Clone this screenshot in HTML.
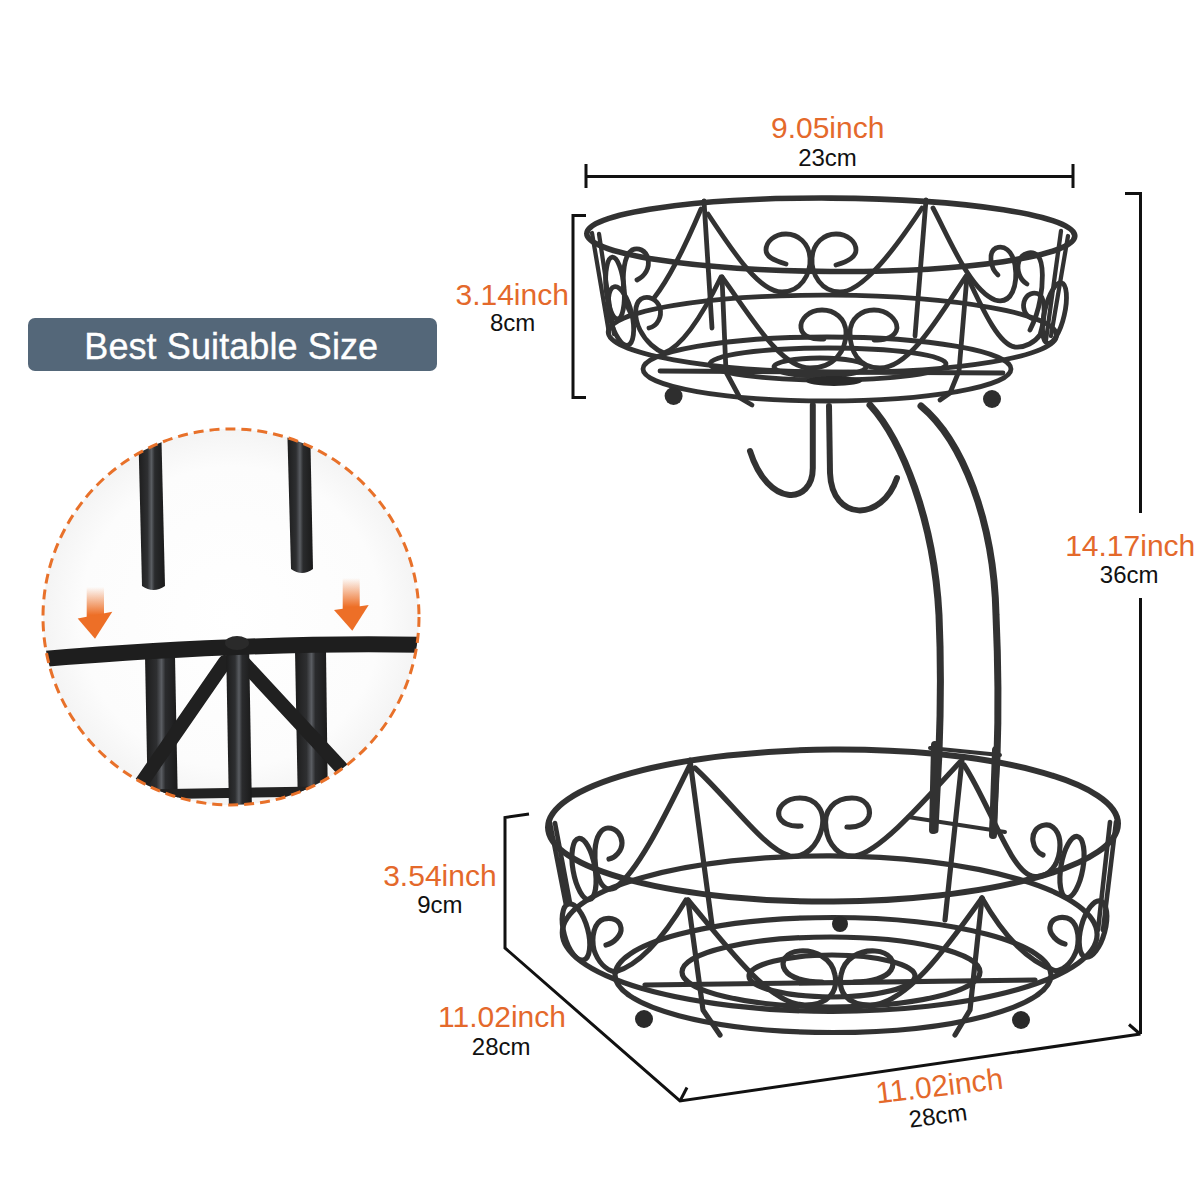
<!DOCTYPE html>
<html><head><meta charset="utf-8">
<style>
html,body{margin:0;padding:0;background:#fff;}
body{width:1200px;height:1200px;position:relative;overflow:hidden;font-family:"Liberation Sans",sans-serif;}
.badge{position:absolute;left:28px;top:318px;width:409px;height:53px;background:#546779;border-radius:7px;}
.badge span{position:absolute;left:-2.5px;right:0;top:11px;letter-spacing:0.1px;-webkit-text-stroke:0.35px #fff;text-align:center;color:#fff;font-size:36px;line-height:36px;}
svg{position:absolute;left:0;top:0;}
</style></head><body>
<div class="badge"><span>Best Suitable Size</span></div>
<svg width="1200" height="1200" viewBox="0 0 1200 1200">
<defs>
  <filter id="soft" x="-5%" y="-5%" width="110%" height="110%"><feGaussianBlur stdDeviation="0.55"/></filter>
  <radialGradient id="cbg" cx="50%" cy="50%" r="50%">
    <stop offset="0" stop-color="#ffffff"/>
    <stop offset="0.8" stop-color="#fcfcfc"/>
    <stop offset="1" stop-color="#f4f4f4"/>
  </radialGradient>
  <clipPath id="cclip"><circle cx="231" cy="617" r="188"/></clipPath>
  <linearGradient id="arr" x1="0" y1="0" x2="0" y2="1">
    <stop offset="0" stop-color="#ed6f27" stop-opacity="0"/>
    <stop offset="0.85" stop-color="#ed6f27" stop-opacity="1"/>
  </linearGradient>
  <linearGradient id="barg" x1="0" y1="0" x2="1" y2="0">
    <stop offset="0" stop-color="#1c1c1c"/>
    <stop offset="0.35" stop-color="#2e2f31"/>
    <stop offset="0.5" stop-color="#5a5d62"/>
    <stop offset="0.62" stop-color="#2a2b2d"/>
    <stop offset="1" stop-color="#1a1a1a"/>
  </linearGradient>
</defs>

<!-- ===== inset circle ===== -->
<g id="inset">
  <circle cx="231" cy="617" r="188" fill="url(#cbg)"/>
  <g clip-path="url(#cclip)">
    <!-- upper bars -->
    <path d="M138 420 L161 420 L165 586 Q153.5 594 142 586 Z" fill="url(#barg)"/>
    <path d="M287 420 L310 420 L313 569 Q302 577 291 569 Z" fill="url(#barg)"/>
    <!-- lower vertical bars -->
    <path d="M145 656 L175 656 L178 810 L148 810 Z" fill="url(#barg)"/>
    <path d="M295 650 L326 650 L328 810 L298 810 Z" fill="url(#barg)"/>
    <!-- bottom bar -->
    <path d="M40 796 L420 790" stroke="#222" stroke-width="10" fill="none"/>
    <!-- diagonals -->
    <path d="M225 662 L140 785" stroke="#202020" stroke-width="14" stroke-linecap="round" fill="none"/>
    <path d="M243 662 L345 772" stroke="#202020" stroke-width="14" stroke-linecap="round" fill="none"/>
    <!-- center post -->
    <path d="M226 642 L249 642 L252 812 L229 812 Z" fill="url(#barg)"/>
    <!-- curved horizontal rim -->
    <path d="M30 660 C 150 650, 300 642, 430 645" stroke="#1e1e1e" stroke-width="16" fill="none"/>
    <ellipse cx="237" cy="643" rx="12" ry="7" fill="#2a2a2a"/>
  </g>
  <circle cx="231" cy="617" r="188" fill="none" stroke="#e8712a" stroke-width="3" stroke-dasharray="10 6"/>
  <!-- arrows -->
  <rect x="86.7" y="587" width="17.3" height="33" fill="url(#arr)"/>
  <path d="M77.7 618.5 L112.3 611.7 L95 638.7 Z" fill="#ed6f27"/>
  <rect x="342.7" y="578" width="17" height="34" fill="url(#arr)"/>
  <path d="M334 610 L368.7 605 L352.3 630.7 Z" fill="#ed6f27"/>
</g>

<!-- ===== annotation lines ===== -->
<g stroke="#111" stroke-width="3" fill="none" stroke-linecap="butt">
  <path d="M586 176.5 L1073 176.5 M586 164 L586 188 M1073 164 L1073 188"/>
  <path d="M586 215.5 L573 215.5 L573 397.5 L586 397.5"/>
  <path d="M1125 193.5 L1140.5 193.5 L1140.5 513 M1140.5 598 L1140.5 1034"/>
  <path d="M529 814 L505 817.5 L505 948 L680 1101 L1140.5 1034"/>
  <path d="M1140 1034 L1129 1024.5"/>
  <path d="M680 1101 L687 1087.5"/>
</g>

<!-- ===== texts ===== -->
<g font-family="Liberation Sans" text-anchor="middle">
  <g fill="#e4692b" font-size="30">
    <text x="827.7" y="138.3">9.05inch</text>
    <text x="512.2" y="305">3.14inch</text>
    <text x="1130.2" y="556">14.17inch</text>
    <text x="439.9" y="885.8">3.54inch</text>
    <text x="502" y="1026.8">11.02inch</text>
    <text x="0" y="0" transform="translate(940.5 1096) rotate(-6.8)">11.02inch</text>
  </g>
  <g fill="#111" font-size="24">
    <text x="827.5" y="165.7">23cm</text>
    <text x="512.6" y="331.3">8cm</text>
    <text x="1129.2" y="583">36cm</text>
    <text x="439.8" y="913.3">9cm</text>
    <text x="501.2" y="1054.5">28cm</text>
    <text x="0" y="0" transform="translate(939 1124) rotate(-7.5)">28cm</text>
  </g>
</g>

<!-- ===== basket ===== -->
<g id="basket" fill="none" stroke="#333" stroke-linecap="round" stroke-linejoin="round" filter="url(#soft)">
<!-- TOP BASKET -->
<g stroke-width="4.8">
  <ellipse cx="830.8" cy="234.8" rx="244" ry="36.7" transform="rotate(0.3 830.8 234.8)" stroke-width="5.6"/>
  <ellipse cx="832.4" cy="333.7" rx="224.2" ry="38.6" transform="rotate(0.4 832.4 333.7)"/>
  <ellipse cx="827" cy="369" rx="184" ry="32"/>
  <ellipse cx="828" cy="364" rx="118" ry="16"/>
  <ellipse cx="820" cy="367" rx="46" ry="9"/>
  <path d="M660 371 L1003 373"/>
  <!-- posts -->
  <path d="M704 201 L712 328 M926 200 L915 336 M722 277 L726 372 L740 398 L752 405 M967 276 L959 371 L950 393 L940 400"/>
  <path d="M592 233 L609 333 M599 234 L614 334 M1061 231 L1046 340 M1068 236 L1051 336" stroke-width="4.3"/>
  <!-- back panel -->
  <path d="M708 214 C 735 255, 760 292, 782 292 C 800 292, 811 275, 810 258 C 809 243, 798 234, 786 234 C 774 234, 766 242, 766 250 C 766 256, 772 260, 786 264"/>
  <path d="M922 208 C 893 252, 862 292, 840 292 C 822 292, 811 275, 812 258 C 813 243, 824 234, 836 234 C 848 234, 856 242, 856 250 C 856 256, 850 261, 836 265"/>
  <!-- front panel -->
  <path d="M722 277 C 750 315, 780 368, 810 368 C 835 368, 846 350, 846 333 C 846 318, 834 310, 822 310 C 808 310, 800 320, 801 328 C 802 336, 812 340, 824 339"/>
  <path d="M966 276 C 940 315, 910 368, 880 368 C 858 368, 850 350, 850 333 C 850 318, 862 310, 874 310 C 888 310, 897 320, 897 328 C 896 336, 886 341, 874 340"/>
  <!-- left side -->
  <ellipse cx="615" cy="288" rx="9" ry="31" transform="rotate(-5 615 288)"/>
  <path d="M637 280 C 645 276, 650 268, 648 259 C 646 250, 638 247, 632 250 C 624 255, 622 275, 624 293 C 626 305, 630 313, 634 318"/>
  <path d="M701 209 C 690 235, 672 275, 654 298"/>
  <path d="M649 328 C 658 326, 662 316, 660 308 C 657 299, 648 295, 641 299 C 634 304, 634 318, 640 330 C 646 342, 656 350, 664 353"/>
  <path d="M721 277 C 705 310, 685 345, 664 353"/>
  <ellipse cx="621" cy="316" rx="11" ry="30" transform="rotate(-13 621 316)"/>
  <!-- right side -->
  <path d="M933 208 C 950 240, 970 290, 995 300 C 1012 305, 1018 285, 1015 265 C 1012 250, 1004 245, 996 248 C 988 252, 990 268, 998 275"/>
  <path d="M1027 284 C 1020 280, 1016 270, 1019 261 C 1022 253, 1032 250, 1038 256 C 1044 263, 1043 285, 1040 300 C 1038 312, 1034 322, 1030 330"/>
  <path d="M1034 319 C 1027 318, 1022 310, 1024 302 C 1026 294, 1034 291, 1040 295 C 1046 300, 1045 320, 1040 335"/>
  <path d="M967 276 C 985 315, 1000 345, 1015 347 C 1025 348, 1035 342, 1040 335"/>
  <ellipse cx="1054.5" cy="313" rx="10" ry="31" transform="rotate(13 1054.5 313)"/>
  <!-- hub & feet -->
  <ellipse cx="834" cy="381" rx="28" ry="5" fill="#2a2a2a" stroke="none"/>
  <circle cx="673.6" cy="396" r="9" fill="#2e2e2e" stroke="none"/>
  <circle cx="992" cy="399" r="9" fill="#2e2e2e" stroke="none"/>
</g>
<!-- hooks & stand -->
<g stroke-width="6">
  <path d="M812.8 405 L812.8 468 C 812.8 505, 768 508, 750 451"/>
  <path d="M829 406 L830 473 C 832 522, 882 522, 897 478"/>
  <path d="M870 405 C 902 440, 934 520, 939 615 C 941 660, 941 700, 939 752 L935 830" stroke-width="7"/>
  <path d="M921 406 C 962 440, 994 520, 996 615 C 998 660, 999 700, 997 757 L993 830" stroke-width="7"/>
</g>
<!-- LOWER BASKET -->
<g stroke-width="5.2">
  <ellipse cx="833" cy="825.5" rx="285" ry="76" transform="rotate(-0.4 833 825.5)" stroke-width="6"/>
  <ellipse cx="829.7" cy="933.6" rx="267.4" ry="77.8" transform="rotate(0.2 829.7 933.6)"/>
  <ellipse cx="833" cy="975" rx="218" ry="57.5"/>
  <ellipse cx="831" cy="972" rx="149" ry="35"/>
  <ellipse cx="832" cy="976" rx="83" ry="21"/>
  <path d="M645 985 L1035 980"/>
  <!-- posts -->
  <path d="M690 760 L712 925 M962 760 L945 920 M688 900 L703 1010 L720 1035 M982 898 L970 1010 L955 1035"/>
  <path d="M550 823 L566 905 M555 823 L570 903 M1116 822 L1103 930 M1110 822 L1098 930" stroke-width="4.6"/>
  <!-- back panel -->
  <path d="M695 768 C 730 800, 765 850, 790 856 C 805 859, 818 845, 822 828 C 826 810, 815 798, 800 798 C 785 798, 777 808, 779 816 C 781 823, 790 827, 801 826"/>
  <path d="M960 762 C 925 800, 880 852, 855 856 C 840 858, 828 845, 826 828 C 823 810, 835 798, 852 798 C 866 798, 871 808, 869 816 C 867 823, 858 828, 847 827"/>
  <!-- front panel -->
  <path d="M688 900 C 730 950, 770 1005, 805 1005 C 830 1005, 838 990, 835 975 C 832 958, 815 950, 800 951 C 785 952, 780 962, 785 970 C 790 978, 805 982, 822 982"/>
  <path d="M982 898 C 945 950, 905 1005, 870 1005 C 845 1005, 838 990, 841 975 C 844 958, 860 950, 875 951 C 890 952, 896 962, 891 970 C 886 978, 871 982, 854 982"/>
  <!-- left side -->
  <ellipse cx="584" cy="869" rx="11" ry="31" transform="rotate(-10 584 869)"/>
  <path d="M690 765 C 670 805, 640 870, 615 888 C 600 895, 594 870, 595 850 C 596 835, 602 828, 608 828 C 617 828, 622 836, 622 843 C 622 851, 615 858, 609 859"/>
  
  <ellipse cx="576" cy="932" rx="12" ry="29" transform="rotate(-15 576 932)"/>
  <path d="M606 945 C 614 943, 622 935, 621 928 C 620 920, 612 917, 604 919 C 594 922, 591 937, 594 950 C 598 962, 606 970, 615 972"/>
  <path d="M686 900 C 665 935, 640 965, 615 972"/>
  <!-- right side -->
  <ellipse cx="1072" cy="867" rx="11" ry="31" transform="rotate(10 1072 867)"/>
  <path d="M964 765 C 990 805, 1010 870, 1032 876 C 1050 880, 1060 862, 1060 845 C 1060 832, 1053 824, 1045 825 C 1036 826, 1032 834, 1033 841 C 1034 848, 1038 853, 1043 855"/>
  
  <ellipse cx="1093" cy="929" rx="12" ry="29" transform="rotate(15 1093 929)"/>
  <path d="M1065 944 C 1057 942, 1049 934, 1050 927 C 1051 919, 1059 916, 1067 918 C 1077 921, 1080 936, 1077 949 C 1073 961, 1065 969, 1056 971"/>
  <path d="M982 898 C 1003 935, 1028 962, 1056 971"/>
  <!-- stand sockets -->
  <path d="M935 745 L933 830 M996 750 L993 835" stroke-width="8"/>
  <path d="M930 748 L1000 755 M908 817 L1005 832" stroke-width="4"/>
  <circle cx="644" cy="1019" r="9" fill="#2a2a2a" stroke="none"/>
  <circle cx="1021" cy="1020" r="9" fill="#2a2a2a" stroke="none"/>
  <circle cx="840" cy="924" r="8" fill="#2a2a2a" stroke="none"/>
</g>
</g>
</svg>
</body></html>
